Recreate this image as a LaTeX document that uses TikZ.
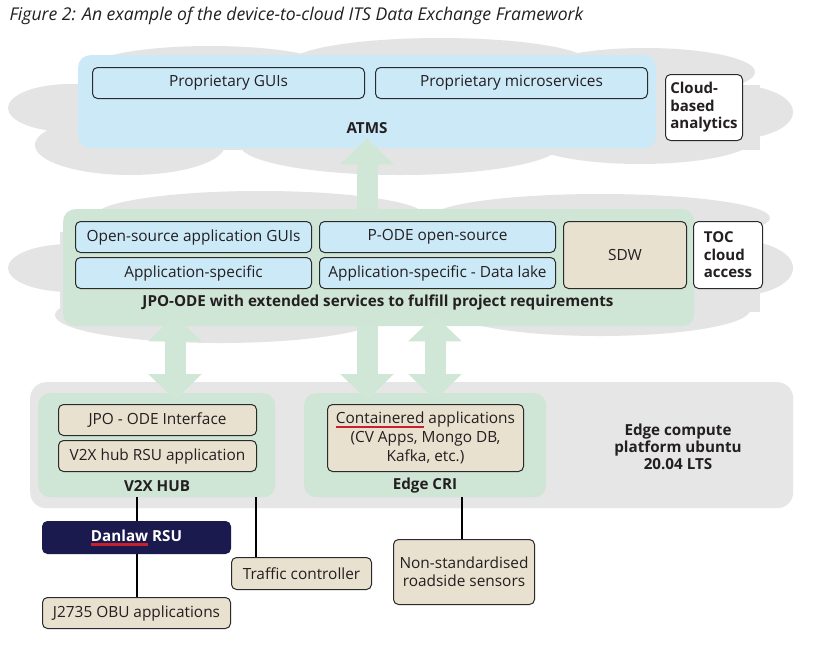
\documentclass[tikz,border=0pt]{standalone}
\usepackage{fontspec}
\setmainfont{Open Sans}
\usetikzlibrary{arrows.meta}
\definecolor{cloudgray}{HTML}{E4E4E5}
\definecolor{platgray}{HTML}{E6E6E7}
\definecolor{ltblue}{HTML}{CCE9F8}
\definecolor{ltgreen}{HTML}{CFE5D5}
\definecolor{arrgreen}{HTML}{D0E6D7}
\definecolor{beige}{HTML}{E9E1CF}
\definecolor{navy}{HTML}{1B1A4F}
\definecolor{ulred}{HTML}{C8202F}
\definecolor{textdark}{HTML}{231F20}
\definecolor{boxline}{HTML}{2A2A2A}
\newcommand{\redul}[1]{\setbox0\hbox{#1}\rlap{\color{ulred}\rule[-4.5pt]{\wd0}{2.6pt}}\box0\relax}
\begin{document}
\begin{tikzpicture}[x=1pt,y=-1pt,
  every node/.style={text=textdark,font=\fontsize{15.4}{18}\selectfont},
  panel/.style={rounded corners=12pt,inner sep=0pt,anchor=north west,draw=none},
  inbox/.style={draw=boxline,line width=1pt,rounded corners=5pt,inner sep=0pt,anchor=north west,align=center},
  lbl/.style={font=\fontsize{15.2}{18}\selectfont\bfseries},
  conn/.style={draw=black,line width=2.2pt},
  fatup/.style={draw=arrgreen,line width=21pt,-{Triangle[width=52pt,length=26pt]}},
  fatboth/.style={draw=arrgreen,line width=21pt,{Triangle[width=52pt,length=26pt]}-{Triangle[width=52pt,length=26pt]}}]
\useasboundingbox (0,0) rectangle (829,646);
\fill[white] (0,0) rectangle (829,646);
% title
\node[anchor=west,font=\fontsize{17.6}{20}\selectfont\itshape,text=textdark] (title) at (6,16) {Figure 2: An example of the device-to-cloud ITS Data Exchange Framework};
% top cloud
\begin{scope}[cloudgray]
\fill (70,108) ellipse [x radius=62,y radius=24];
\fill (130,145) ellipse [x radius=95,y radius=30];
\fill (210,70) ellipse [x radius=125,y radius=24];
\fill (440,63) ellipse [x radius=150,y radius=25];
\fill (645,72) ellipse [x radius=110,y radius=24];
\fill (735,112) ellipse [x radius=58,y radius=27];
\fill (400,145) ellipse [x radius=160,y radius=30];
\fill (640,138) ellipse [x radius=115,y radius=26];
\fill (60,85) rectangle (760,150);
% middle cloud
\fill (70,268) ellipse [x radius=62,y radius=24];
\fill (260,216) ellipse [x radius=165,y radius=25];
\fill (600,218) ellipse [x radius=170,y radius=24];
\fill (735,268) ellipse [x radius=58,y radius=28];
\fill (220,315) ellipse [x radius=165,y radius=28];
\fill (600,310) ellipse [x radius=150,y radius=26];
\fill (60,232) rectangle (760,312);
\end{scope}
% platform
\node[panel,fill=platgray,rounded corners=16pt,minimum width=763pt,minimum height=126pt] (plat) at (30,382) {};
% panels
\node[panel,fill=ltblue,minimum width=578pt,minimum height=93pt] (atms) at (78,55) {};
\node[panel,fill=ltgreen,minimum width=631pt,minimum height=117pt] (jpo) at (63,209) {};
\node[panel,fill=ltgreen,minimum width=237pt,minimum height=104pt] (v2x) at (38,393) {};
\node[panel,fill=ltgreen,minimum width=242pt,minimum height=104pt] (edge) at (304,393) {};
% arrow axes
\coordinate (ax1) at (175,0);
\coordinate (ax2) at (367,0);
\coordinate (ax3) at (435,0);
% arrows
\draw[fatup] (jpo.north -| ax2) -- ([yshift=10pt]atms.south -| ax2);
\draw[fatboth] ([yshift=11pt]jpo.south -| ax1) -- ([yshift=-7pt]v2x.north -| ax1);
\draw[fatup] (jpo.south -| ax2) -- ([yshift=-7pt]edge.north -| ax2);
\draw[fatboth] ([yshift=11pt]jpo.south -| ax3) -- ([yshift=-7pt]edge.north -| ax3);
% top level
\node[inbox,fill=ltblue,minimum width=272pt,minimum height=31pt] (pgui) at (92,67) {Proprietary GUIs};
\node[inbox,fill=ltblue,minimum width=272pt,minimum height=31pt] (pmicro) at (375,67) {Proprietary microservices};
\node[lbl] (atmslbl) at (367,128) {ATMS};
\node[inbox,fill=white,minimum width=77pt,minimum height=66pt,align=left,font=\fontsize{15}{17.5}\selectfont\bfseries] (cba) at (665,74) {Cloud-\\based\\analytics};
% middle level
\node[inbox,fill=ltblue,minimum width=236pt,minimum height=31pt] (osgui) at (75,221) {Open-source application GUIs};
\node[inbox,fill=ltblue,minimum width=236pt,minimum height=31pt] (pode) at (319,221) {P-ODE open-source};
\node[inbox,fill=ltblue,minimum width=236pt,minimum height=31pt] (appspec) at (75,257) {Application-specific};
\node[inbox,fill=ltblue,minimum width=236pt,minimum height=31pt] (dlake) at (319,257) {Application-specific - Data lake};
\node[inbox,fill=beige,minimum width=123pt,minimum height=67pt] (sdw) at (563,221) {SDW};
\node[inbox,fill=white,minimum width=69pt,minimum height=67pt,align=left,font=\fontsize{15}{17.5}\selectfont\bfseries] (toc) at (693,221) {TOC\\cloud\\access};
\node[lbl] (jpolbl) at (378,303) {JPO-ODE with extended services to fulfill project requirements};
% edge level
\node[inbox,fill=beige,minimum width=198pt,minimum height=31pt] (jpoif) at (58,404) {JPO - ODE Interface};
\node[inbox,fill=beige,minimum width=198pt,minimum height=31pt] (rsuapp) at (58,440) {V2X hub RSU application};
\node[lbl] (v2xlbl) at (157,486) {V2X HUB};
\node[inbox,fill=beige,minimum width=196pt,minimum height=67pt,font=\fontsize{15.4}{19}\selectfont] (contain) at (327,404) {\redul{Containered} applications\\(CV Apps, Mongo DB,\\Kafka, etc.)};
\node[lbl] (edgelbl) at (425,486) {Edge CRI};
\node[lbl,align=center,font=\fontsize{15.2}{17}\selectfont\bfseries] (platlbl) at (678,447) {Edge compute\\platform ubuntu\\20.04 LTS};
% devices
\coordinate (c1) at (137,0);
\coordinate (c2) at (256,0);
\coordinate (c3) at (462,0);
\node[inbox,fill=navy,draw=navy,minimum width=188pt,minimum height=32pt,text=white,font=\fontsize{15.2}{18}\selectfont\bfseries] (danlaw) at (42,521) {\redul{Danlaw} RSU};
\node[inbox,fill=beige,minimum width=188pt,minimum height=31pt] (j2735) at (42,597) {J2735 OBU applications};
\node[inbox,fill=beige,minimum width=140pt,minimum height=32pt] (traffic) at (231,557) {Traffic controller};
\node[inbox,fill=beige,minimum width=141pt,minimum height=65pt,font=\fontsize{15.4}{18}\selectfont] (nonstd) at (393,539) {Non-standardised\\roadside sensors};
\draw[conn] (v2x.south -| c1) -- (danlaw.north -| c1);
\draw[conn] (danlaw.south -| c1) -- (j2735.north -| c1);
\draw[conn] (v2x.south -| c2) -- (traffic.north -| c2);
\draw[conn] (edge.south -| c3) -- (nonstd.north -| c3);
\end{tikzpicture}
\end{document}
